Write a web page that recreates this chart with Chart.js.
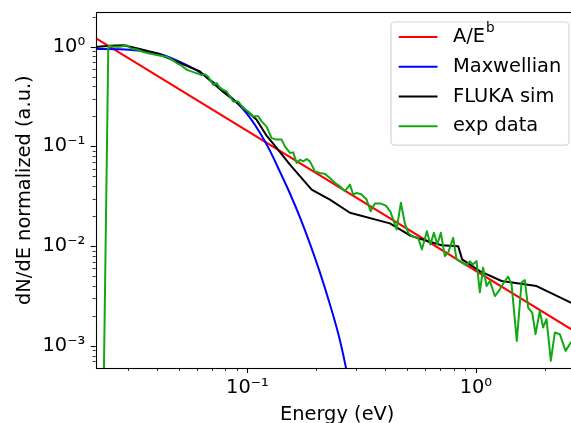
<!DOCTYPE html>
<html lang="en">
<head>
<meta charset="UTF-8" />
<title>dN/dE spectrum</title>
<script src="https://cdn.jsdelivr.net/npm/chart.js"></script>
<style>
  html, body { margin: 0; padding: 0; background: #fff; overflow: hidden; }
  #wrap { width: 580px; height: 423px; }
</style>
</head>
<body>
<div id="wrap"><canvas id="grafico" width="580" height="423"></canvas></div>
<script>
// axis limits and tick labels
const xMin = 0.02166, xMax = 2.82;
const yMin = 0.000612, yMax = 2.21;
const xTicks = [0.1, 1];
const xTickLabels = ["10⁻¹", "10⁰"];
const yTicks = [0.001, 0.01, 0.1, 1];
const yTickLabels = ["10⁻³", "10⁻²", "10⁻¹", "10⁰"];

const legendLabels = ["A/E^b", "Maxwellian", "FLUKA sim", "exp data"];
const lineColors = ["#ff0000", "#0000ff", "#000000", "#13a813"];

// A/E^b fit
const eFit = [0.02166, 2.82];
const vFit = [1.22, 0.00132];

// Maxwellian
const eMax = [0.02166, 0.02767, 0.03384, 0.0414, 0.05065, 0.06195, 0.07577, 0.09272,
  0.1025, 0.1134, 0.1254, 0.1387, 0.1535, 0.1698, 0.1877, 0.2076, 0.2296, 0.254, 0.2753, 0.2984];
const vMax = [0.948, 0.944, 0.912, 0.845, 0.703, 0.552, 0.386, 0.255,
  0.194, 0.137, 0.0906, 0.0558, 0.0337, 0.0194, 0.0106, 0.00546, 0.00261, 0.00114, 0.000486, 0.000185];

// FLUKA simulation
const eSim = [0.02166, 0.02502, 0.0286, 0.03274, 0.04004, 0.06195, 0.07834, 0.09272, 0.1097,
  0.1213, 0.1342, 0.1535, 0.191, 0.2296, 0.281, 0.4203, 0.5143, 0.5786, 0.7077, 0.8366,
  0.871, 1.041, 1.296, 1.844, 2.605, 2.82];
const vSim = [0.993, 1.023, 1.033, 0.964, 0.859, 0.565, 0.352, 0.261, 0.185,
  0.128, 0.0964, 0.0656, 0.0369, 0.0293, 0.0216, 0.0169, 0.0128, 0.0117, 0.0102, 0.01,
  0.00736, 0.00562, 0.00447, 0.00398, 0.00272, 0.00249];

// experimental data
const eExp = [0.02329, 0.0246, 0.02587, 0.02767, 0.0296, 0.03092, 0.03274, 0.03499, 0.0368, 0.04004,
  0.04224, 0.04442, 0.04721, 0.04915, 0.05169, 0.05435, 0.05715, 0.0601, 0.06257, 0.06516,
  0.06735, 0.07083, 0.0733, 0.07577, 0.07834, 0.08107, 0.0838, 0.08664, 0.09114, 0.09585,
  0.1008, 0.106, 0.1115, 0.1154, 0.1213, 0.1276, 0.1342, 0.1411, 0.1459, 0.1535,
  0.1587, 0.1642, 0.1698, 0.1755, 0.1816, 0.1877, 0.1974, 0.2076, 0.2184, 0.2296,
  0.2415, 0.254, 0.2672, 0.281, 0.2904, 0.3005, 0.3161, 0.3324, 0.3461, 0.3614,
  0.3838, 0.4037, 0.4224, 0.4498, 0.4697, 0.489, 0.5055, 0.5247, 0.5591, 0.5804,
  0.6104, 0.6322, 0.6549, 0.6783, 0.7026, 0.7315, 0.7563, 0.7957, 0.8232, 0.8799,
  0.9106, 0.9412, 0.9732, 1.007, 1.041, 1.076, 1.114, 1.152, 1.211, 1.274,
  1.339, 1.385, 1.433, 1.511, 1.585, 1.638, 1.694, 1.764, 1.825, 1.905,
  1.97, 2.039, 2.129, 2.217, 2.331, 2.47, 2.605, 2.795];
const vExp = [0.0001, 1.023, 1.0, 1.0, 1.033, 0.959, 0.938, 0.885, 0.859, 0.826,
  0.807, 0.789, 0.728, 0.682, 0.641, 0.585, 0.562, 0.54, 0.521, 0.53,
  0.498, 0.414, 0.431, 0.386, 0.369, 0.355, 0.316, 0.282, 0.282, 0.242,
  0.224, 0.2, 0.2, 0.178, 0.158, 0.121, 0.117, 0.117, 0.1, 0.0859,
  0.0871, 0.0682, 0.0736, 0.0708, 0.0748, 0.0708, 0.0562, 0.0542, 0.053, 0.0483,
  0.0431, 0.0398, 0.0355, 0.0414, 0.0329, 0.0342, 0.0329, 0.0293, 0.0224, 0.0267,
  0.0267, 0.0255, 0.0222, 0.0147, 0.0272, 0.0169, 0.0136, 0.0126, 0.0121, 0.00927,
  0.0141, 0.0104, 0.0136, 0.0104, 0.0136, 0.00794, 0.00859, 0.0121, 0.00736, 0.00671,
  0.00641, 0.00703, 0.00656, 0.00708, 0.00344, 0.00608, 0.00398, 0.00447, 0.00316, 0.00369,
  0.00447, 0.00494, 0.00414, 0.00112, 0.00431, 0.00457, 0.00242, 0.00216, 0.00131, 0.00224,
  0.00153, 0.00185, 0.000708, 0.00136, 0.00131, 0.000891, 0.00108, 0.00122];

const FONTE = '"DejaVu Sans", sans-serif';
const FS = 19.4;

function pontos(es, vs) {
  return es.map((e, i) => ({ x: e, y: vs[i] }));
}

// minor tick values 2..9 x 10^k inside [lo, hi]
function menores(lo, hi) {
  const out = [];
  for (let k = -5; k <= 2; k++) {
    for (let m = 2; m <= 9; m++) {
      const v = m * Math.pow(10, k);
      if (v >= lo && v <= hi) out.push(v);
    }
  }
  return out;
}

// spines, tick marks and legend drawn on top of the lines
const moldura = {
  id: "moldura",
  afterDatasetsDraw(chart) {
    const { ctx, chartArea: a, scales } = chart;
    const sx = scales.x, sy = scales.y;
    ctx.save();
    ctx.strokeStyle = "#000";

    // tick marks (outward)
    ctx.lineWidth = 1.1;
    xTicks.forEach((v) => {
      const px = Math.round(sx.getPixelForValue(v)) + 0.5;
      ctx.beginPath(); ctx.moveTo(px, a.bottom); ctx.lineTo(px, a.bottom + 5); ctx.stroke();
    });
    yTicks.forEach((v) => {
      const py = Math.round(sy.getPixelForValue(v)) + 0.5;
      ctx.beginPath(); ctx.moveTo(a.left, py); ctx.lineTo(a.left - 5, py); ctx.stroke();
    });
    ctx.lineWidth = 0.8;
    menores(xMin, xMax).forEach((v) => {
      const px = Math.round(sx.getPixelForValue(v)) + 0.5;
      ctx.beginPath(); ctx.moveTo(px, a.bottom); ctx.lineTo(px, a.bottom + 3); ctx.stroke();
    });
    menores(yMin, yMax).forEach((v) => {
      const py = Math.round(sy.getPixelForValue(v)) + 0.5;
      ctx.beginPath(); ctx.moveTo(a.left, py); ctx.lineTo(a.left - 3, py); ctx.stroke();
    });

    // spines
    ctx.lineWidth = 1.1;
    ctx.strokeRect(Math.round(a.left) + 0.5, Math.round(a.top) + 0.5,
      Math.round(a.right - a.left), Math.round(a.bottom - a.top));

    // legend
    const fsSup = FS * 0.7;
    const pad = 0.4 * FS, handle = 2 * FS, gap = 0.8 * FS;
    const larguras = legendLabels.map((t) => {
      const [base, sup] = t.split("^");
      ctx.font = FS + "px " + FONTE;
      let w = ctx.measureText(base).width;
      if (sup) { ctx.font = fsSup + "px " + FONTE; w += ctx.measureText(sup).width + 1; }
      return w;
    });
    const boxW = pad + handle + gap + Math.max(...larguras) + pad;
    const boxH = 6.35 * FS;
    const right = a.right - 0.5 * FS;
    const left = right - boxW;
    const top = a.top + 0.5 * FS;
    const r = 0.2 * FS;

    ctx.beginPath();
    ctx.moveTo(left + r, top);
    ctx.lineTo(right - r, top);
    ctx.arcTo(right, top, right, top + r, r);
    ctx.lineTo(right, top + boxH - r);
    ctx.arcTo(right, top + boxH, right - r, top + boxH, r);
    ctx.lineTo(left + r, top + boxH);
    ctx.arcTo(left, top + boxH, left, top + boxH - r, r);
    ctx.lineTo(left, top + r);
    ctx.arcTo(left, top, left + r, top, r);
    ctx.closePath();
    ctx.fillStyle = "rgba(255,255,255,0.8)";
    ctx.fill();
    ctx.strokeStyle = "rgba(204,204,204,0.8)";
    ctx.lineWidth = 1.2;
    ctx.stroke();

    legendLabels.forEach((t, i) => {
      const cy = top + 0.77 * FS + i * 1.535 * FS;
      ctx.strokeStyle = lineColors[i];
      ctx.lineWidth = 2;
      ctx.beginPath();
      ctx.moveTo(left + pad, cy);
      ctx.lineTo(left + pad + handle, cy);
      ctx.stroke();

      const [base, sup] = t.split("^");
      const tx = left + pad + handle + gap;
      ctx.fillStyle = "#000";
      ctx.textBaseline = "middle";
      ctx.textAlign = "left";
      ctx.font = FS + "px " + FONTE;
      ctx.fillText(base, tx, cy);
      if (sup) {
        const wb = ctx.measureText(base).width;
        ctx.font = fsSup + "px " + FONTE;
        ctx.fillText(sup, tx + wb + 1, cy - 0.42 * FS);
      }
    });
    ctx.restore();
  },
};

const ctx = document.getElementById("grafico");

new Chart(ctx, {
  type: "line",
  data: {
    datasets: [
      { label: legendLabels[0], data: pontos(eFit, vFit), borderColor: lineColors[0], order: 4 },
      { label: legendLabels[1], data: pontos(eMax, vMax), borderColor: lineColors[1], order: 3,
        cubicInterpolationMode: "monotone" },
      { label: legendLabels[2], data: pontos(eSim, vSim), borderColor: lineColors[2], order: 2 },
      { label: legendLabels[3], data: pontos(eExp, vExp), borderColor: lineColors[3], order: 1 },
    ],
  },
  options: {
    responsive: false,
    animation: false,
    elements: {
      point: { radius: 0 },
      line: { borderWidth: 2, tension: 0, fill: false, borderJoinStyle: "round" },
    },
    layout: { padding: { top: 12.3, right: 1.3, left: 0, bottom: 0 } },
    plugins: { legend: { display: false }, tooltip: { enabled: false } },
    scales: {
      x: {
        type: "logarithmic",
        min: xMin,
        max: xMax,
        afterBuildTicks: (s) => { s.ticks = xTicks.map((v) => ({ value: v })); },
        afterFit: (s) => { s.height = 55; s.paddingLeft = 0; s.paddingRight = 0; },
        ticks: {
          autoSkip: false, maxRotation: 0, minRotation: 0, padding: 8, color: "#000",
          font: { family: FONTE, size: FS, lineHeight: 1.2 },
          callback: (v) => xTickLabels[xTicks.indexOf(v)] ?? "",
        },
        grid: { display: true, drawOnChartArea: false, drawTicks: false },
        border: { display: false },
        title: {
          display: true, text: "Energy (eV)", color: "#000",
          font: { family: FONTE, size: FS, lineHeight: 1.2 }, padding: { top: 0, bottom: -4 },
        },
      },
      y: {
        type: "logarithmic",
        min: yMin,
        max: yMax,
        afterBuildTicks: (s) => { s.ticks = yTicks.map((v) => ({ value: v })); },
        afterFit: (s) => { s.width = 95.7; s.paddingTop = 0; s.paddingBottom = 0; },
        ticks: {
          autoSkip: false, padding: 10.5, color: "#000",
          font: { family: FONTE, size: FS, lineHeight: 1.2 },
          callback: (v) => yTickLabels[yTicks.indexOf(v)] ?? "",
        },
        grid: { display: true, drawOnChartArea: false, drawTicks: false },
        border: { display: false },
        title: {
          display: true, text: "dN/dE normalized (a.u.)", color: "#000",
          font: { family: FONTE, size: FS, lineHeight: 1.2 }, padding: { top: 13, bottom: 0 },
        },
      },
    },
  },
  plugins: [moldura],
});
</script>
</body>
</html>
